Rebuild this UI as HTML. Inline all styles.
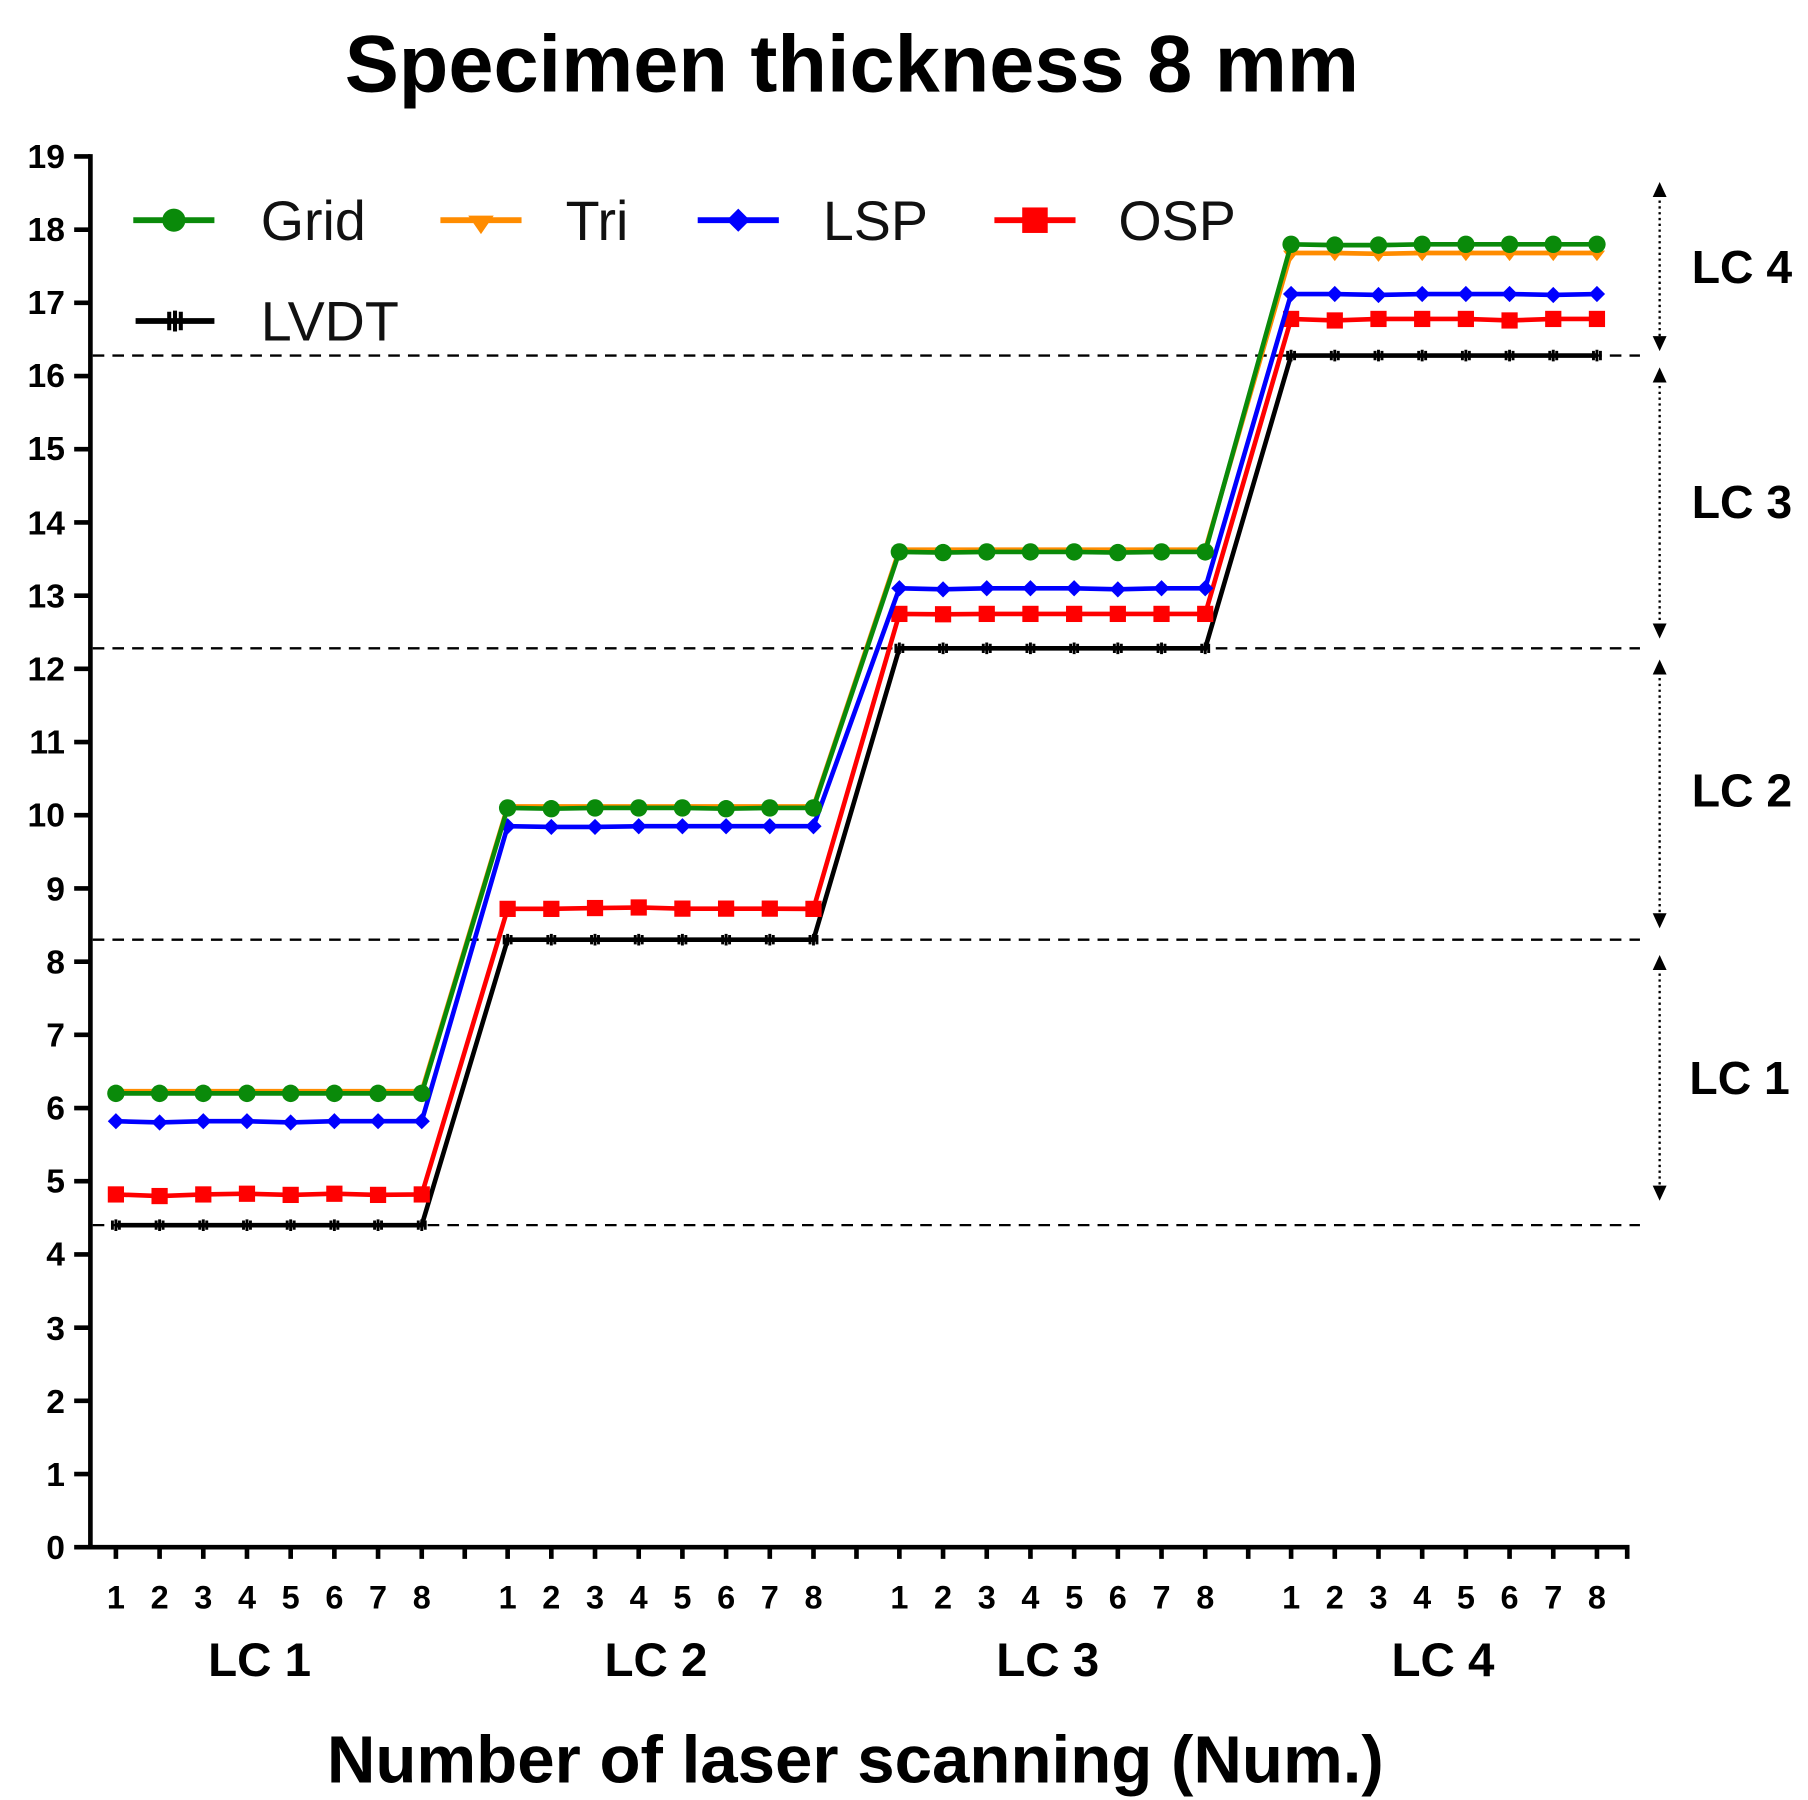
<!DOCTYPE html>
<html><head><meta charset="utf-8"><style>html,body{margin:0;padding:0;background:#fff}svg{display:block}</style></head><body>
<svg width="1808" height="1800" viewBox="0 0 1560 1553.1" xmlns="http://www.w3.org/2000/svg" font-family="Liberation Sans, Arial, sans-serif">
<defs>
<marker id="mG" markerUnits="userSpaceOnUse" markerWidth="20" markerHeight="20" refX="10" refY="10"><circle cx="10" cy="10" r="7.5" fill="#0a8a0a"/></marker>
<marker id="mT" markerUnits="userSpaceOnUse" markerWidth="20" markerHeight="20" refX="10" refY="10"><path d="M3,8 L17,8 L10,17 Z" fill="#ff8c00"/></marker>
<marker id="mL" markerUnits="userSpaceOnUse" markerWidth="20" markerHeight="20" refX="10" refY="10"><path d="M10,3 L17,10 L10,17 L3,10 Z" fill="#0000ff"/></marker>
<marker id="mO" markerUnits="userSpaceOnUse" markerWidth="20" markerHeight="20" refX="10" refY="10"><rect x="3" y="3" width="14" height="14" fill="#ff0000"/></marker>
<marker id="mV" markerUnits="userSpaceOnUse" markerWidth="20" markerHeight="20" refX="10" refY="10"><path d="M7,6 L7,14 M10,5 L10,15 M13,6 L13,14" stroke="#000" stroke-width="2.5"/></marker>
</defs>
<text x="735" y="79" font-size="70" font-weight="bold" text-anchor="middle">Specimen thickness 8 mm</text>
<g stroke="#000" stroke-width="2" stroke-dasharray="10,7">
<line x1="80" y1="306.8" x2="1415" y2="306.8"/>
<line x1="80" y1="559.4" x2="1415" y2="559.4"/>
<line x1="80" y1="810.8" x2="1415" y2="810.8"/>
<line x1="80" y1="1057.1" x2="1415" y2="1057.1"/>
</g>
<g stroke="#000" stroke-width="4" fill="none">
<line x1="78" y1="133" x2="78" y2="1337"/>
<line x1="76" y1="1335" x2="1406" y2="1335"/>
<path d="M64,135H78M64,198.2H78M64,261.3H78M64,324.5H78M64,387.6H78M64,450.8H78M64,514H78M64,577.1H78M64,640.3H78M64,703.4H78M64,766.6H78M64,829.8H78M64,892.9H78M64,956.1H78M64,1019.2H78M64,1082.4H78M64,1145.6H78M64,1208.7H78M64,1271.9H78M64,1335H78"/>
<path d="M100,1335v10M137.7,1335v10M175.4,1335v10M213.1,1335v10M250.8,1335v10M288.5,1335v10M326.2,1335v10M363.9,1335v10M401,1335v10M438,1335v10M475.7,1335v10M513.4,1335v10M551.1,1335v10M588.8,1335v10M626.5,1335v10M664.2,1335v10M701.9,1335v10M739,1335v10M776,1335v10M813.7,1335v10M851.4,1335v10M889.1,1335v10M926.8,1335v10M964.5,1335v10M1002.2,1335v10M1039.9,1335v10M1077,1335v10M1114,1335v10M1151.7,1335v10M1189.4,1335v10M1227.1,1335v10M1264.8,1335v10M1302.5,1335v10M1340.2,1335v10M1377.9,1335v10M1404,1335v10"/>
</g>
<g font-size="29" font-weight="bold" text-anchor="end">
<text x="56" y="145">19</text><text x="56" y="208">18</text><text x="56" y="271">17</text><text x="56" y="334">16</text><text x="56" y="397">15</text><text x="56" y="461">14</text><text x="56" y="524">13</text><text x="56" y="587">12</text><text x="56" y="650">11</text><text x="56" y="713">10</text><text x="56" y="777">9</text><text x="56" y="840">8</text><text x="56" y="903">7</text><text x="56" y="966">6</text><text x="56" y="1029">5</text><text x="56" y="1092">4</text><text x="56" y="1156">3</text><text x="56" y="1219">2</text><text x="56" y="1282">1</text><text x="56" y="1345">0</text>
</g>
<g font-size="28" font-weight="bold" text-anchor="middle">
<text x="100" y="1388">1</text><text x="137.7" y="1388">2</text><text x="175.4" y="1388">3</text><text x="213.1" y="1388">4</text><text x="250.8" y="1388">5</text><text x="288.5" y="1388">6</text><text x="326.2" y="1388">7</text><text x="363.9" y="1388">8</text>
<text x="438" y="1388">1</text><text x="475.7" y="1388">2</text><text x="513.4" y="1388">3</text><text x="551.1" y="1388">4</text><text x="588.8" y="1388">5</text><text x="626.5" y="1388">6</text><text x="664.2" y="1388">7</text><text x="701.9" y="1388">8</text>
<text x="776" y="1388">1</text><text x="813.7" y="1388">2</text><text x="851.4" y="1388">3</text><text x="889.1" y="1388">4</text><text x="926.8" y="1388">5</text><text x="964.5" y="1388">6</text><text x="1002.2" y="1388">7</text><text x="1039.9" y="1388">8</text>
<text x="1114" y="1388">1</text><text x="1151.7" y="1388">2</text><text x="1189.4" y="1388">3</text><text x="1227.1" y="1388">4</text><text x="1264.8" y="1388">5</text><text x="1302.5" y="1388">6</text><text x="1340.2" y="1388">7</text><text x="1377.9" y="1388">8</text>
</g>
<g font-size="41" font-weight="bold" text-anchor="middle">
<text x="224" y="1446">LC 1</text><text x="566" y="1446">LC 2</text><text x="904" y="1446">LC 3</text><text x="1245" y="1446">LC 4</text>
</g>
<text x="738" y="1538" font-size="58" font-weight="bold" text-anchor="middle">Number of laser scanning (Num.)</text>
<g fill="none" stroke-width="4">
<polyline stroke="#000" marker-start="url(#mV)" marker-mid="url(#mV)" marker-end="url(#mV)" points="100,1057.1 137.7,1057.1 175.4,1057.1 213.1,1057.1 250.8,1057.1 288.5,1057.1 326.2,1057.1 363.9,1057.1 438,810.8 475.7,810.8 513.4,810.8 551.1,810.8 588.8,810.8 626.5,810.8 664.2,810.8 701.9,810.8 776,559.4 813.7,559.4 851.4,559.4 889.1,559.4 926.8,559.4 964.5,559.4 1002.2,559.4 1039.9,559.4 1114,306.8 1151.7,306.8 1189.4,306.8 1227.1,306.8 1264.8,306.8 1302.5,306.8 1340.2,306.8 1377.9,306.8"/>
<polyline stroke="#ff0000" marker-start="url(#mO)" marker-mid="url(#mO)" marker-end="url(#mO)" points="100,1030.6 137.7,1032 175.4,1030.6 213.1,1030 250.8,1031 288.5,1030 326.2,1031 363.9,1030.6 438,784.2 475.7,784.2 513.4,783.5 551.1,783 588.8,784 626.5,784 664.2,784 701.9,784.2 776,529.7 813.7,530 851.4,529.7 889.1,529.7 926.8,529.7 964.5,529.7 1002.2,529.7 1039.9,529.7 1114,275.2 1151.7,276.5 1189.4,275.2 1227.1,275.2 1264.8,275.2 1302.5,276.5 1340.2,275.2 1377.9,275.2"/>
<polyline stroke="#0000ff" marker-start="url(#mL)" marker-mid="url(#mL)" marker-end="url(#mL)" points="100,967.4 137.7,968.5 175.4,967.4 213.1,967.4 250.8,968.5 288.5,967.4 326.2,967.4 363.9,967.4 438,712.9 475.7,713.5 513.4,713.5 551.1,712.9 588.8,712.9 626.5,712.9 664.2,712.9 701.9,712.9 776,507.6 813.7,508.5 851.4,507.6 889.1,507.6 926.8,507.6 964.5,508.5 1002.2,507.6 1039.9,507.6 1114,253.7 1151.7,253.7 1189.4,254.5 1227.1,253.7 1264.8,253.7 1302.5,253.7 1340.2,254.5 1377.9,253.7"/>
<polyline stroke="#ff8c00" marker-start="url(#mT)" marker-mid="url(#mT)" marker-end="url(#mT)" points="100,941.5 137.7,941.5 175.4,941.5 213.1,941.5 250.8,941.5 288.5,941.5 326.2,941.5 363.9,941.5 438,695.8 475.7,695.8 513.4,695.8 551.1,695.8 588.8,695.8 626.5,695.8 664.2,695.8 701.9,695.8 776,474.3 813.7,474.3 851.4,474.3 889.1,474.3 926.8,474.3 964.5,474.3 1002.2,474.3 1039.9,474.3 1114,218.3 1151.7,218.3 1189.4,219 1227.1,218.3 1264.8,218.3 1302.5,218.3 1340.2,218.3 1377.9,218.3"/>
<polyline stroke="#0a8a0a" marker-start="url(#mG)" marker-mid="url(#mG)" marker-end="url(#mG)" points="100,943.4 137.7,943.4 175.4,943.4 213.1,943.4 250.8,943.4 288.5,943.4 326.2,943.4 363.9,943.4 438,697.1 475.7,697.8 513.4,697.1 551.1,697.1 588.8,697.1 626.5,697.8 664.2,697.1 701.9,697.1 776,476.2 813.7,476.8 851.4,476.2 889.1,476.2 926.8,476.2 964.5,476.8 1002.2,476.2 1039.9,476.2 1114,210.8 1151.7,211.5 1189.4,211.5 1227.1,210.8 1264.8,210.8 1302.5,210.8 1340.2,210.8 1377.9,210.8"/>
</g>
<g stroke-width="5" fill="none">
<line x1="115" y1="190" x2="185" y2="190" stroke="#0a8a0a"/>
<circle cx="150" cy="190" r="10" fill="#0a8a0a" stroke="none"/>
<line x1="380" y1="190" x2="450" y2="190" stroke="#ff8c00"/>
<path d="M404,186 L426,186 L415,202 Z" fill="#ff8c00" stroke="none"/>
<line x1="602" y1="190" x2="672" y2="190" stroke="#0000ff"/>
<path d="M637,180 L647,190 L637,200 L627,190 Z" fill="#0000ff" stroke="none"/>
<line x1="858" y1="190" x2="928" y2="190" stroke="#ff0000"/>
<rect x="882" y="179" width="22" height="22" fill="#ff0000" stroke="none"/>
<line x1="117" y1="277" x2="185" y2="277" stroke="#000"/>
<path d="M146,269v16M151,268v18M156,269v16" stroke="#000" stroke-width="3.5"/>
</g>
<g font-size="48" fill="#111">
<text x="225" y="207">Grid</text><text x="488" y="207">Tri</text><text x="710" y="207">LSP</text><text x="965" y="207">OSP</text><text x="225" y="294">LVDT</text>
</g>
<g stroke="#000" stroke-width="2" stroke-dasharray="2,3">
<line x1="1432" y1="168" x2="1432" y2="292"/>
<line x1="1432" y1="328" x2="1432" y2="540"/>
<line x1="1432" y1="580" x2="1432" y2="790"/>
<line x1="1432" y1="835" x2="1432" y2="1025"/>
</g>
<g fill="#000">
<path d="M1426,170 L1438,170 L1432,157 Z"/><path d="M1426,290 L1438,290 L1432,303 Z"/>
<path d="M1426,330 L1438,330 L1432,317 Z"/><path d="M1426,538 L1438,538 L1432,551 Z"/>
<path d="M1426,582 L1438,582 L1432,569 Z"/><path d="M1426,788 L1438,788 L1432,801 Z"/>
<path d="M1426,837 L1438,837 L1432,824 Z"/><path d="M1426,1023 L1438,1023 L1432,1036 Z"/>
</g>
<g font-size="40" font-weight="bold" text-anchor="middle">
<text x="1503" y="244">LC 4</text><text x="1503" y="447">LC 3</text><text x="1503" y="696">LC 2</text><text x="1501" y="944">LC 1</text>
</g>
</svg>
</body></html>
